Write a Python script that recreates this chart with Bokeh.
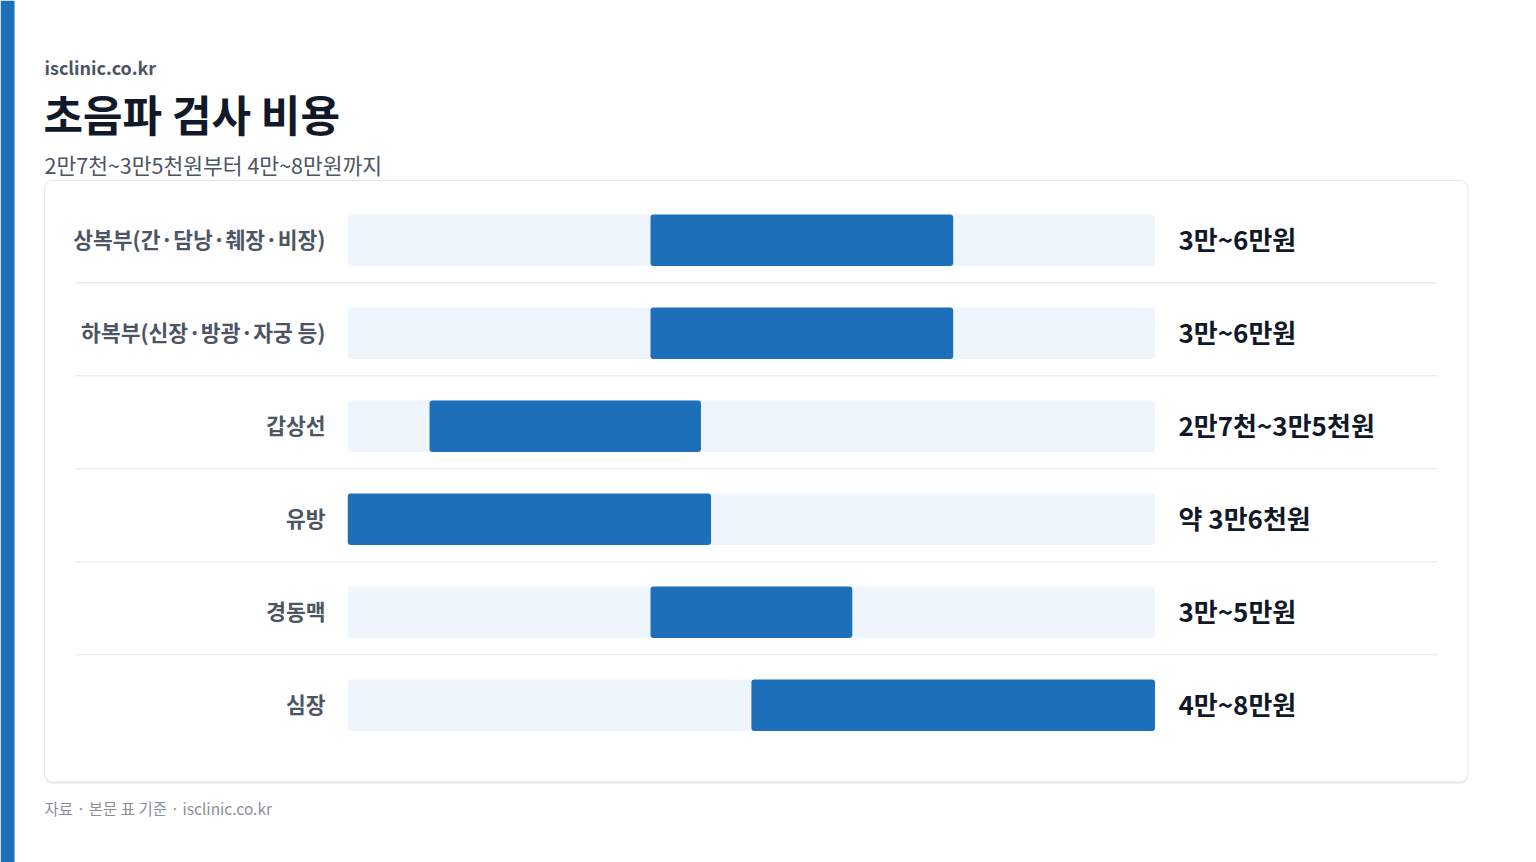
from bokeh.plotting import figure
from bokeh.models import Range1d
from bokeh.core.properties import value
from bokeh.embed import file_html
from bokeh.resources import INLINE

# ---- data ----
categories = ["상복부(간·담낭·췌장·비장)", "하복부(신장·방광·자궁 등)", "갑상선", "유방", "경동맥", "심장"]
low_values = [3.0, 3.0, 0.81, 0.0, 3.0, 4.0]     # 만원
high_values = [6.0, 6.0, 3.5, 3.6, 5.0, 8.0]     # 만원
value_labels = ["3만~6만원", "3만~6만원", "2만7천~3만5천원", "약 3만6천원", "3만~5만원", "4만~8만원"]
scale_max = 8.0

title_text = "초음파 검사 비용"
kicker_text = "isclinic.co.kr"
subtitle_text = "2만7천~3만5천원부터 4만~8만원까지"
footer_text = "자료 · 본문 표 기준 · isclinic.co.kr"

FONT = "Noto Sans CJK KR"
BLUE = "#1e6fb9"
TRACK = "#eef5fd"

# ---- geometry (page pixels -> data units) ----
W, H = 1536, 862
OFF = 0
track_left_px = 347.3
px_per_unit = 100.9
row0_px = 239.7
row_px = 93.0

def X(px):
    return (px - track_left_px) / px_per_unit

def Y(py):
    return (py - row0_px) / row_px

p = figure(width=W, height=H, output_backend="svg", toolbar_location=None,
           x_range=Range1d(X(OFF), X(OFF + W)),
           y_range=Range1d(Y(OFF + H), Y(OFF)),
           min_border=0, outline_line_color=None)
p.axis.visible = False
p.grid.visible = False
p.background_fill_color = "white"
p.border_fill_color = "white"

# left accent stripe
p.quad(left=[X(0)], right=[X(14)], top=[Y(OFF)], bottom=[Y(OFF + H)],
       fill_color=BLUE, line_color=None)

# card shadow + card
p.quad(left=[X(44)], right=[X(1467.5)], top=[Y(181)], bottom=[Y(783)],
       fill_color="#e6e7ea", line_color=None, border_radius=8)
p.quad(left=[X(44)], right=[X(1467.5)], top=[Y(180)], bottom=[Y(781.5)],
       fill_color="white", line_color="#e4e6ea", line_width=1, border_radius=8)

rows = list(range(len(categories)))
text_rows = [r - 2.0 / row_px for r in rows]

# separators
for i in rows[:-1]:
    p.line([X(75), X(1437)], [i + 0.458, i + 0.458], line_color="#e5e7eb", line_width=1)

# tracks and range bars
bar_h = 51.5 / row_px
p.hbar(y=rows, left=[0] * len(rows), right=[scale_max] * len(rows), height=bar_h,
       fill_color=TRACK, line_color=None, border_radius=4)
p.hbar(y=rows, left=low_values, right=high_values, height=bar_h,
       fill_color=BLUE, line_color=None, border_radius=3)

# category labels
p.text(x=[X(325)] * len(rows), y=text_rows, text=categories,
       text_align="right", text_baseline="middle",
       text_font=value(FONT), text_font_size="21.5px", text_font_style="bold",
       text_color="#4b5563")

# value labels
p.text(x=[X(1178)] * len(rows), y=text_rows, text=value_labels,
       text_align="left", text_baseline="middle",
       text_font=value(FONT), text_font_size="26px", text_font_style="bold",
       text_color="#111827")

# header texts
p.text(x=[X(44)], y=[Y(66)], text=[kicker_text], text_align="left", text_baseline="middle",
       text_font=value(FONT), text_font_size="18px", text_font_style="bold", text_color="#4b5563")
p.text(x=[X(43)], y=[Y(112)], text=[title_text], text_align="left", text_baseline="middle",
       text_font=value(FONT), text_font_size="43px", text_font_style="bold", text_color="#111827")
p.text(x=[X(44)], y=[Y(164)], text=[subtitle_text], text_align="left", text_baseline="middle",
       text_font=value(FONT), text_font_size="21.5px", text_color="#4b5563")
p.text(x=[X(44)], y=[Y(807)], text=[footer_text], text_align="left", text_baseline="middle",
       text_font=value(FONT), text_font_size="15.5px", text_color="#8b8f97")

open("out.html", "w").write(file_html(p, INLINE))
